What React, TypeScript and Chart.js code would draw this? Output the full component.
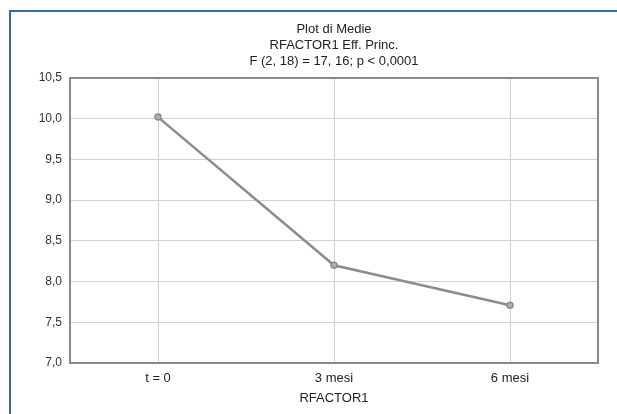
import React, { useEffect, useRef } from "react";
import { Chart, registerables } from "chart.js";

Chart.register(...registerables);

const categories = ["t = 0", "3 mesi", "6 mesi"];
const means = [10.02, 8.2, 7.71];
const titleLines = ["Plot di Medie", "RFACTOR1 Eff. Princ.", "F (2, 18) = 17, 16; p < 0,0001"];
const xAxisTitle = "RFACTOR1";
const yMin = 7.0;
const yMax = 10.5;
const yStep = 0.5;

const FONT = "'Liberation Sans', Arial, Helvetica, sans-serif";

const frameBorder = {
  id: "frameBorder",
  afterDatasetsDraw(chart: any) {
    const { ctx, chartArea } = chart;
    ctx.save();
    ctx.strokeStyle = "#8a8a8a";
    ctx.lineWidth = 2;
    ctx.strokeRect(chartArea.left, chartArea.top, chartArea.right - chartArea.left, chartArea.bottom - chartArea.top);
    ctx.restore();
  },
};

export default function App() {
  const ref = useRef<HTMLCanvasElement | null>(null);
  useEffect(() => {
    document.body.style.margin = "0";
    const canvas = ref.current;
    if (!canvas) return;
    const chart = new Chart(canvas, {
      type: "line",
      data: {
        labels: categories,
        datasets: [
          {
            data: means,
            borderColor: "#8c8c8c",
            borderWidth: 2.5,
            pointRadius: 3,
            pointBackgroundColor: "#b0b0b0",
            pointBorderColor: "#8c8c8c",
            pointBorderWidth: 1.5,
            tension: 0,
          },
        ],
      },
      options: {
        responsive: false,
        animation: false,
        devicePixelRatio: 1,
        layout: { padding: { left: 10, right: 19, top: 21, bottom: 8 } },
        plugins: {
          legend: { display: false },
          tooltip: { enabled: false },
          title: {
            display: true,
            text: titleLines,
            fullSize: false,
            color: "#222",
            font: { family: FONT, size: 13, weight: "normal", lineHeight: 16 / 13 },
            padding: { top: 0, bottom: 9 },
          },
        },
        scales: {
          x: {
            offset: true,
            grid: { color: "#d0d0d0", lineWidth: 1, drawTicks: false, offset: false },
            border: { display: false },
            afterFit: (scale: any) => {
              scale.height = 43;
            },
            ticks: { color: "#222", font: { family: FONT, size: 13 }, padding: 8 },
            title: {
              display: true,
              text: xAxisTitle,
              color: "#222",
              font: { family: FONT, size: 13 },
              padding: { top: 2, bottom: 0 },
            },
          },
          y: {
            min: yMin,
            max: yMax,
            grid: { color: "#d0d0d0", lineWidth: 1, drawTicks: false },
            border: { display: false },
            afterFit: (scale: any) => {
              scale.width = 60;
            },
            ticks: {
              stepSize: yStep,
              color: "#333",
              padding: 8,
              font: { family: FONT, size: 12 },
              callback: (v: any) => Number(v).toFixed(1).replace(".", ","),
            },
          },
        },
      },
      plugins: [frameBorder],
    });
    return () => chart.destroy();
  }, []);
  return (
    <div style={{ position: "relative", width: 617, height: 414, background: "#fff" }}>
      <div
        style={{
          position: "absolute",
          left: 9,
          top: 10,
          right: 0,
          bottom: 0,
          borderLeft: "2px solid #3a69a8",
          borderTop: "2px solid #3a69a8",
          pointerEvents: "none",
        }}
      />
      <canvas ref={ref} width={617} height={414} style={{ position: "absolute", left: 0, top: 0 }} />
    </div>
  );
}
